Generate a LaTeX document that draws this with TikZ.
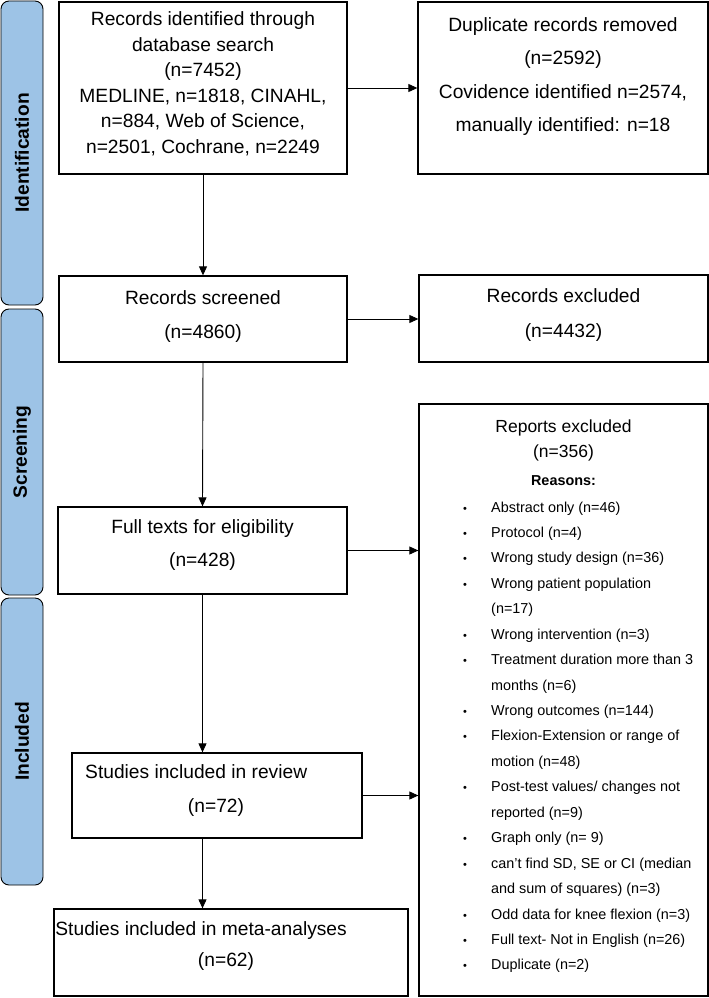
\documentclass[tikz,border=0pt]{standalone}
\usepackage{fontspec}
\setmainfont{Liberation Sans}
\usetikzlibrary{arrows.meta}
\definecolor{barblue}{HTML}{9DC3E6}
\begin{document}
\begin{tikzpicture}[x=1pt,y=-1pt,
  box/.style={draw=black, line width=1.3pt, inner sep=0pt},
  conn/.style={draw=black, line width=0.9pt, -{Triangle[length=9pt,width=8pt]}},
  bar/.style={draw=black, line width=0.9pt, fill=barblue, rounded corners=8pt, inner sep=0pt,
    font=\fontsize{19.2}{23}\selectfont\bfseries, rotate=90, minimum height=42pt},
  txt/.style={font=\fontsize{19.2}{23}\selectfont, inner sep=0pt, anchor=base},
  ttl/.style={font=\fontsize{17.5}{21}\selectfont, inner sep=0pt, anchor=base},
  rsn/.style={font=\fontsize{14.4}{17}\selectfont\bfseries, inner sep=0pt, anchor=base},
  itm/.style={font=\fontsize{14.4}{17}\selectfont, inner sep=0pt, anchor=base west},
  bul/.style={font=\fontsize{11}{13}\selectfont, inner sep=0pt, anchor=base}
]
\useasboundingbox (0,0) rectangle (709,998);

% phase bars
\node[bar, minimum width=304pt] (idbar) at (22,153) {Identification};
\node[bar, minimum width=286pt] (scbar) at (22,452) {Screening};
\node[bar, minimum width=287pt] (inbar) at (22,741.5) {Included};

% boxes
\node[box, minimum width=288pt, minimum height=172pt] (box1) at (203,88) {};
\node[box, minimum width=290pt, minimum height=172pt] (dup) at (563,88) {};
\node[box, minimum width=288pt, minimum height=86pt] (screened) at (203,319) {};
\node[box, minimum width=289pt, minimum height=87pt] (excl) at (563.5,318.5) {};
\node[box, minimum width=289pt, minimum height=87pt] (full) at (202.5,550.5) {};
\node[box, minimum width=289pt, minimum height=592pt] (reports) at (563.5,700) {};
\node[box, minimum width=290pt, minimum height=85pt] (review) at (217,795.5) {};
\node[box, minimum width=354pt, minimum height=87pt] (meta) at (231,952.5) {};

% box texts
\node[txt] (b1a) at (203,26) {Records identified through};
\node[txt] (b1b) at (203,51.4) {database search};
\node[txt] (b1c) at (203,76.8) {(n=7452)};
\node[txt] (b1d) at (203,102.2) {MEDLINE, n=1818, CINAHL,};
\node[txt] (b1e) at (203,127.6) {n=884, Web of Science,};
\node[txt] (b1f) at (203,153) {n=2501, Cochrane, n=2249};

\node[txt] (d1) at (563,32) {Duplicate records removed};
\node[txt] (d2) at (563,65) {(n=2592)};
\node[txt] (d3) at (563,98) {Covidence identified n=2574,};
\node[txt] (d4) at (563,131) {manually identified: n=18};

\node[txt] (s1) at (203,304) {Records screened};
\node[txt] (s2) at (203,338) {(n=4860)};

\node[txt] (e1) at (563.5,302) {Records excluded};
\node[txt] (e2) at (563.5,337) {(n=4432)};

\node[txt] (f1) at (202.5,533) {Full texts for eligibility};
\node[txt] (f2) at (202.5,566) {(n=428)};

\node[txt, anchor=base west] (r1) at (85,778) {Studies included in review};
\node[txt] (r2) at (216,812) {(n=72)};

\node[txt, anchor=base east] (m1) at (347,935) {Studies included in meta-analyses};
\node[txt] (m2) at (226,966) {(n=62)};

\node[ttl] (p1) at (563.5,432) {Reports excluded};
\node[ttl] (p2) at (563.5,457) {(n=356)};
\node[rsn] (p3) at (563.5,485) {Reasons:};

% reasons list
\foreach \i/\t in {0/Abstract only (n=46),1/Protocol (n=4),2/Wrong study design (n=36),
  3/Wrong patient population,4/(n=17),5/Wrong intervention (n=3),
  6/Treatment duration more than 3,7/months (n=6),8/Wrong outcomes (n=144),
  9/Flexion-Extension or range of,10/motion (n=48),11/Post-test values{/} changes not,
  12/reported (n=9),13/Graph only (n= 9),14/can't find SD{,} SE or CI (median,
  15/and sum of squares) (n=3),16/Odd data for knee flexion (n=3),
  17/Full text- Not in English (n=26),18/Duplicate (n=2)}
  {\node[itm] (it\i) at (491,512+25.44*\i) {\t};}
\foreach \i in {0,1,2,3,5,6,8,9,11,13,14,16,17,18}
  {\node[bul] (bu\i) at (465,512+25.44*\i) {\textbullet};}

% connectors
\draw[conn] (box1.east) -- (dup.west);
\draw[conn] (box1.south) -- (screened.north);
\draw[conn] (screened.east) -- (screened.east -| excl.west);
\draw[conn] (screened.south) -- (full.north);
\draw[conn] (full.east) -- (full.east -| reports.west);
\draw[conn] (full.south) -- (full.south |- review.north);
\draw[conn] (review.east) -- (review.east -| reports.west);
\draw[conn] (full.south |- review.south) -- (full.south |- meta.north);
\end{tikzpicture}
\end{document}
